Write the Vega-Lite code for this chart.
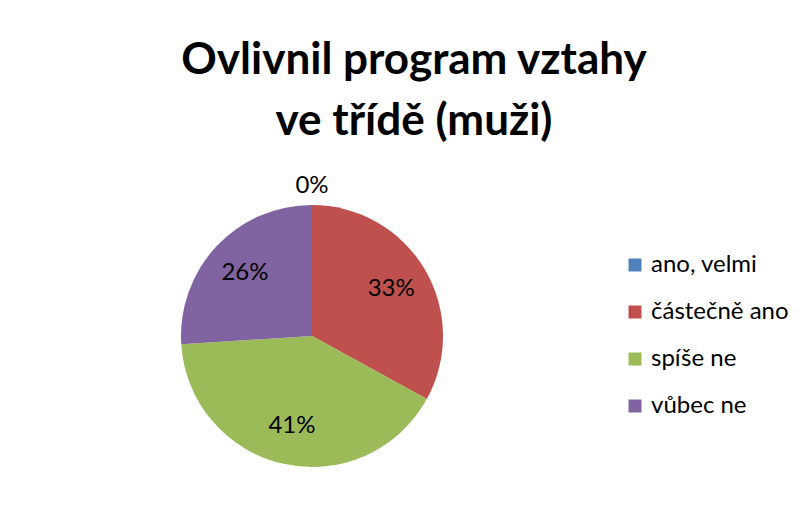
{
  "$schema": "https://vega.github.io/schema/vega-lite/v6.json",
  "autosize": {"type": "none"},
  "width": 262,
  "height": 262,
  "padding": {"left": 181, "top": 205, "right": 366, "bottom": 43},
  "background": "white",
  "title": {
    "text": ["Ovlivnil program vztahy", "ve třídě (muži)"],
    "font": "Lato",
    "fontSize": 44,
    "fontWeight": "bold",
    "color": "#000000",
    "anchor": "middle",
    "dx": 102,
    "offset": 30,
    "lineHeight": 61
  },
  "data": {
    "values": [
      {"kategorie": "ano, velmi", "podil": 0, "poradi": 1},
      {"kategorie": "částečně ano", "podil": 0.33, "poradi": 2},
      {"kategorie": "spíše ne", "podil": 0.41, "poradi": 3},
      {"kategorie": "vůbec ne", "podil": 0.26, "poradi": 4}
    ]
  },
  "encoding": {
    "theta": {"field": "podil", "type": "quantitative", "stack": true},
    "order": {"field": "poradi", "type": "quantitative"}
  },
  "layer": [
    {
      "mark": {"type": "arc"},
      "encoding": {
        "color": {
          "field": "kategorie",
          "type": "nominal",
          "scale": {
            "domain": ["ano, velmi", "částečně ano", "spíše ne", "vůbec ne"],
            "range": ["#4F81BD", "#C0504D", "#9BBB59", "#8064A2"]
          },
          "legend": {
            "title": null,
            "orient": "none",
            "legendX": 442,
            "legendY": 48,
            "labelFont": "Lato",
            "labelFontSize": 24,
            "labelColor": "#000000",
            "symbolType": "square",
            "symbolSize": 169,
            "symbolStrokeWidth": 0,
            "symbolOpacity": 1,
            "rowPadding": 23,
            "labelOffset": 4
          }
        }
      }
    },
    {
      "mark": {"type": "text", "font": "Lato", "fontSize": 24, "color": "#000000", "radius": 92},
      "encoding": {
        "detail": {"field": "kategorie", "type": "nominal"},
        "text": {"condition": {"test": "datum.podil == 0", "value": ""}, "field": "podil", "type": "quantitative", "format": ".0%"}
      }
    },
    {
      "mark": {"type": "text", "font": "Lato", "fontSize": 24, "color": "#000000", "radius": 150},
      "encoding": {
        "detail": {"field": "kategorie", "type": "nominal"},
        "text": {"condition": {"test": "datum.podil > 0", "value": ""}, "field": "podil", "type": "quantitative", "format": ".0%"}
      }
    }
  ]
}
